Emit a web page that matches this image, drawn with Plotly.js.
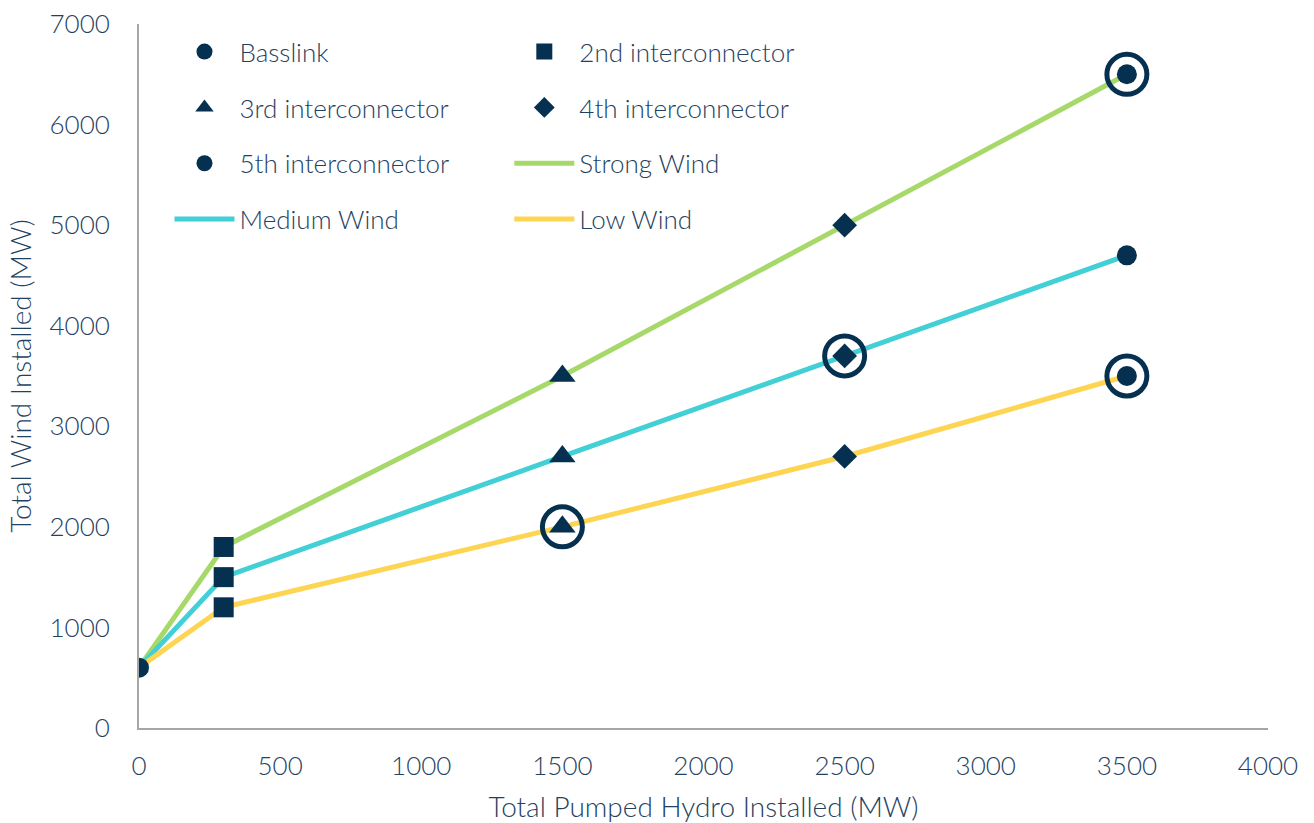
<!DOCTYPE html>
<html>
<head>
<meta charset="utf-8">
<script src="https://cdn.plot.ly/plotly-3.0.1.min.js"></script>
<style>
  html, body { margin: 0; padding: 0; background: #ffffff; }
  #chart { width: 1314px; height: 823px; }
</style>
</head>
<body>
<div id="chart"></div>
<script>
// Pumped hydro build-out stages (MW) and the wind each scenario supports (MW)
const pumpedHydro = [0, 300, 1500, 2500, 3500];
const strongWind = [600, 1800, 3500, 5000, 6500];
const mediumWind = [600, 1500, 2700, 3700, 4700];
const lowWind = [600, 1200, 2000, 2700, 3500];

// Interconnector stage reached at each pumped hydro step
const stageNames = ['Basslink', '2nd interconnector', '3rd interconnector', '4th interconnector', '5th interconnector'];
const stageSymbols = ['circle', 'square', 'triangle-up', 'diamond', 'circle'];

// Scenario / stage pairs that are ringed on the chart
const ringScenario = ['Low Wind', 'Medium Wind', 'Strong Wind', 'Low Wind'];
const ringStage = [2, 3, 4, 4];

const NAVY = '#06304f';
const TEXT = '#1f4262';
const GREEN = '#a6d96a';
const CYAN = '#42cfd5';
const YELLOW = '#fdd553';

const scenarios = [
  { name: 'Strong Wind', y: strongWind, color: GREEN, legend: 'legend2', rank: 3 },
  { name: 'Medium Wind', y: mediumWind, color: CYAN, legend: 'legend', rank: 4 },
  { name: 'Low Wind', y: lowWind, color: YELLOW, legend: 'legend2', rank: 4 }
];
const byName = {};
scenarios.forEach(s => { byName[s.name] = s.y; });

const traces = [];

// Scenario lines
scenarios.forEach(s => {
  traces.push({
    type: 'scatter', mode: 'lines', name: s.name,
    x: pumpedHydro, y: s.y,
    line: { color: s.color, width: 5 },
    legend: s.legend, legendgroup: s.name, legendrank: s.rank,
    hoverinfo: 'x+y+name'
  });
});

// Rings around highlighted points
traces.push({
  type: 'scatter', mode: 'markers', name: 'highlight', showlegend: false,
  x: ringStage.map(i => pumpedHydro[i]),
  y: ringStage.map((i, k) => byName[ringScenario[k]][i]),
  marker: { symbol: 'circle-open', size: 40, color: NAVY, line: { color: NAVY, width: 5 } },
  hoverinfo: 'skip'
});

// Interconnector stage markers
const stageLegend = ['legend', 'legend2', 'legend', 'legend2', 'legend'];
const stageRank = [1, 1, 2, 2, 3];
const stageSizes = [20, 20, 23, 19, 20];
stageNames.forEach((name, i) => {
  const ys = i === 0 ? [strongWind[0]] : scenarios.map(s => s.y[i]);
  traces.push({
    type: 'scatter', mode: 'markers', name: name,
    x: ys.map(() => pumpedHydro[i]), y: ys,
    marker: { symbol: stageSymbols[i], size: stageSizes[i], color: NAVY, line: { width: 0 } },
    legend: stageLegend[i], legendgroup: name, legendrank: stageRank[i]
  });
});

const FAMILY = 'Lato, sans-serif';
const titleFont = { family: FAMILY, size: 28, color: TEXT, weight: 300 };
const legendFont = { family: FAMILY, size: 26, color: TEXT, weight: 300 };
const tickFont = { family: FAMILY, size: 26, color: TEXT, weight: 300 };

const legendCommon = {
  bgcolor: 'rgba(0,0,0,0)', borderwidth: 0,
  font: legendFont, itemwidth: 60, tracegroupgap: 19,
  xanchor: 'left', yanchor: 'top', traceorder: 'grouped',
  itemclick: false, itemdoubleclick: false
};

const layout = {
  width: 1314, height: 823,
  margin: { l: 139, r: 46, t: 24, b: 95 },
  paper_bgcolor: '#ffffff', plot_bgcolor: '#ffffff',
  showlegend: true,
  xaxis: {
    range: [0, 4000], dtick: 500, tick0: 0,
    showgrid: false, zeroline: false,
    showline: true, linecolor: '#a6a6a6', linewidth: 2,
    ticks: '', ticklabelstandoff: 14,
    tickfont: tickFont,
    title: { text: 'Total Pumped Hydro Installed (MW)', font: titleFont, standoff: 18 }
  },
  yaxis: {
    range: [0, 7000], dtick: 1000, tick0: 0,
    showgrid: false, zeroline: false,
    showline: true, linecolor: '#a6a6a6', linewidth: 2,
    ticks: '', ticklabelstandoff: 22,
    tickfont: tickFont,
    title: { text: 'Total Wind Installed (MW)', font: titleFont, standoff: 10 }
  },
  legend: Object.assign({ x: 0.027, y: 0.994 }, legendCommon),
  legend2: Object.assign({ x: 0.328, y: 0.994 }, legendCommon)
};

Plotly.newPlot('chart', traces, layout, { displayModeBar: false, responsive: false });
</script>
</body>
</html>
